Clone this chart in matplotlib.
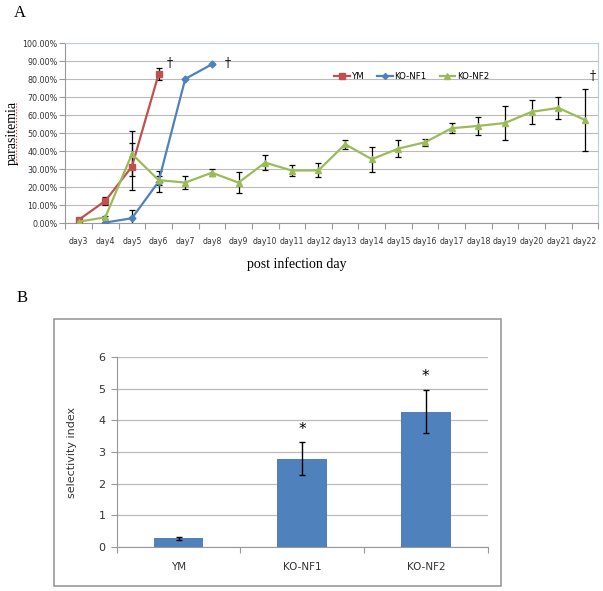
import matplotlib
matplotlib.use("Agg")
import matplotlib.pyplot as plt
import numpy as np
from matplotlib.patches import Rectangle
from matplotlib.lines import Line2D

# panel A data (parasitemia %, days 3..22)
days = ["day" + str(d) for d in range(3, 23)]
ym = [1.9, 12.4, 31.5, 82.8]
ym_err = [0.8, 2.4, 13.0, 3.3]
nf1 = [0.4, 2.8, 23.1, 80.2, 88.3]
nf1_err = [0.4, 4.3, 5.7, 0.0, 0.0]
nf2 = [0.9, 3.3, 38.5, 24.0, 22.6, 28.1, 22.6, 33.7, 29.3, 29.4,
       43.9, 35.6, 41.5, 45.0, 52.8, 54.1, 55.7, 61.9, 64.1, 57.4]
nf2_err = [0.5, 1.0, 12.5, 2.5, 3.5, 1.9, 5.8, 4.2, 3.0, 3.9,
           2.5, 7.0, 4.5, 2.0, 2.8, 5.0, 9.5, 6.5, 6.0, 17.0]

# panel B data
groups = ["YM", "KO-NF1", "KO-NF2"]
sel = [0.27, 2.79, 4.28]
sel_err = [0.05, 0.52, 0.69]

red = "#C0504D"
blue = "#4F81BD"
green = "#9BBB59"

fig = plt.figure(figsize=(6.03, 5.91), dpi=100)

# ---------- A ----------
ax = fig.add_axes([0.1083, 0.6222, 0.8839, 0.3046])
x = np.arange(len(days))
ax.errorbar(x[:len(ym)], ym, yerr=ym_err, color=red, lw=1.6, marker="s", ms=5,
            ecolor="black", elinewidth=0.9, capsize=2, capthick=0.9, label="YM", zorder=3)
ax.errorbar(x[1:1 + len(nf1)], nf1, yerr=nf1_err, color=blue, lw=1.6, marker="D", ms=3.5,
            ecolor="black", elinewidth=0.9, capsize=2, capthick=0.9, label="KO-NF1", zorder=3)
ax.errorbar(x, nf2, yerr=nf2_err, color=green, lw=1.6, marker="^", ms=5,
            ecolor="black", elinewidth=0.9, capsize=2, capthick=0.9, label="KO-NF2", zorder=3)

ax.set_xlim(-0.5, len(days) - 0.5)
ax.set_ylim(0, 100)
ax.set_yticks(np.arange(0, 101, 10))
ax.set_yticklabels(["%.2f%%" % v for v in np.arange(0, 101, 10)], fontsize=5.8, color="#333333")
ax.set_xticks(np.arange(len(days) + 1) - 0.5)
ax.set_xticklabels([])
ax.set_xticks(x, minor=True)
ax.set_xticklabels(days, minor=True, fontsize=5.6, color="#333333")
ax.tick_params(axis="x", which="major", length=4, color="#999999")
ax.tick_params(axis="x", which="minor", length=0, pad=10)
ax.tick_params(axis="y", length=4, color="#999999", pad=1.5)
ax.grid(axis="y", color="#BBBBBB", lw=0.8)
ax.set_axisbelow(True)
ax.spines["left"].set_color("#999999")
ax.spines["bottom"].set_color("#999999")
ax.spines["top"].set_color("#B9CDE5")
ax.spines["right"].set_color("#B9CDE5")

ax.text(3.43, 89, "†", fontsize=9, ha="center", va="center", family="DejaVu Serif")
ax.text(5.6, 89, "†", fontsize=9, ha="center", va="center", family="DejaVu Serif")
ax.text(19.3, 81.5, "†", fontsize=9, ha="center", va="center", family="DejaVu Serif")

handles = [Line2D([], [], color=red, marker="s", ms=4, lw=1.6),
           Line2D([], [], color=blue, marker="D", ms=3, lw=1.6),
           Line2D([], [], color=green, marker="^", ms=4, lw=1.6)]
ax.legend(handles, ["YM", "KO-NF1", "KO-NF2"], ncol=3, frameon=False, fontsize=6.2,
          loc="center", bbox_to_anchor=(0.65, 0.815), handlelength=1.8,
          handletextpad=0.2, columnspacing=1.5)

fig.text(0.02, 0.6222 + 0.1523, "parasitemia", rotation=90, ha="center", va="center",
         fontsize=10, family="Liberation Serif")
fig.add_artist(Line2D([0.027, 0.027], [0.775 - 0.05, 0.775 + 0.05], color="red",
                      lw=0.8, ls=":"))
fig.text(0.493, 1 - 264 / 591, "post infection day", ha="center", va="center",
         fontsize=10, family="Liberation Serif")
fig.text(0.033, 1 - 13 / 591, "A", ha="center", va="center", fontsize=12,
         family="Liberation Serif")

# ---------- B ----------
fig.add_artist(Rectangle((0.090, 0.00846), 0.7408, 0.4513, transform=fig.transFigure,
                         fill=False, edgecolor="#999999", lw=1.2))
bx = fig.add_axes([0.1935, 0.0750, 0.6153, 0.3205])
xb = np.arange(len(groups))
bx.bar(xb, sel, width=0.4, color=blue, zorder=3)
bx.errorbar(xb, sel, yerr=sel_err, fmt="none", ecolor="black", elinewidth=1.0,
            capsize=2.5, capthick=1.0, zorder=4)
bx.text(1, 3.72, "*", ha="center", va="center", fontsize=11)
bx.text(2, 5.40, "*", ha="center", va="center", fontsize=11)
bx.set_xlim(-0.5, 2.5)
bx.set_ylim(0, 6)
bx.set_yticks(range(0, 7))
bx.tick_params(axis="y", labelsize=8, length=4, color="#999999", labelcolor="#333333", pad=4)
bx.set_xticks(np.arange(len(groups) + 1) - 0.5)
bx.set_xticklabels([])
bx.set_xticks(xb, minor=True)
bx.set_xticklabels(groups, minor=True, fontsize=7.5, color="#333333")
bx.tick_params(axis="x", which="major", length=4, color="#999999")
bx.tick_params(axis="x", which="minor", length=0, pad=11)
bx.grid(axis="y", color="#BBBBBB", lw=0.9)
bx.set_axisbelow(True)
for s in ["top", "right"]:
    bx.spines[s].set_visible(False)
bx.spines["left"].set_color("#999999")
bx.spines["bottom"].set_color("#999999")
fig.text(72 / 603, 1 - 452 / 591, "selectivity index", rotation=90, ha="center",
         va="center", fontsize=8, color="#333333")
fig.text(22 / 603, 1 - 298 / 591, "B", ha="center", va="center", fontsize=12,
         family="Liberation Serif")

fig.savefig("out.png", dpi=100)
